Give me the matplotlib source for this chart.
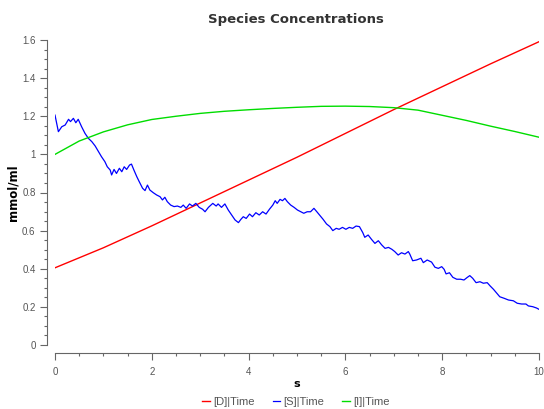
import matplotlib
matplotlib.use("Agg")
import matplotlib.pyplot as plt
from matplotlib.ticker import MultipleLocator, FuncFormatter

# ---- data ----
t_D = [0, 1, 2, 3, 4, 5, 6, 7, 8, 9, 10]
D = [0.405, 0.51, 0.625, 0.745, 0.865, 0.985, 1.11, 1.235, 1.355, 1.475, 1.591]

t_I = [0, 0.5, 1, 1.5, 2, 2.5, 3, 3.5, 4, 4.5, 5, 5.5, 6, 6.5, 7, 7.5, 8, 8.5, 9, 9.5, 10]
I = [1.0, 1.07, 1.118, 1.155, 1.183, 1.20, 1.215, 1.226, 1.234, 1.241, 1.247, 1.252,
     1.253, 1.251, 1.245, 1.232, 1.205, 1.178, 1.148, 1.12, 1.09]

t_S = [0, 0.07, 0.14, 0.21, 0.28, 0.32, 0.38, 0.43, 0.48, 0.55, 0.62, 0.69, 0.76, 0.83,
       0.90, 0.96, 1.03, 1.08, 1.14, 1.17, 1.22, 1.27, 1.33, 1.38, 1.43, 1.48, 1.54, 1.58,
       1.63, 1.69, 1.74, 1.81, 1.86, 1.91, 1.96, 2.03, 2.10, 2.17, 2.22, 2.27, 2.32, 2.39,
       2.46, 2.53, 2.60, 2.65, 2.71, 2.78, 2.84, 2.91, 2.98, 3.05, 3.10, 3.17, 3.26, 3.33,
       3.37, 3.44, 3.51, 3.58, 3.65, 3.72, 3.79, 3.84, 3.89, 3.95, 4.02, 4.08, 4.15, 4.22,
       4.29, 4.36, 4.43, 4.50, 4.55, 4.59, 4.65, 4.70, 4.75, 4.80, 4.87, 4.94, 5.01, 5.08,
       5.14, 5.21, 5.28, 5.35, 5.41, 5.48, 5.54, 5.61, 5.68, 5.74, 5.81, 5.87, 5.94, 6.01,
       6.08, 6.15, 6.22, 6.29, 6.36, 6.40, 6.47, 6.54, 6.61, 6.68, 6.75, 6.82, 6.89, 6.96,
       7.02, 7.09, 7.16, 7.23, 7.30, 7.33, 7.39, 7.47, 7.56, 7.61, 7.69, 7.78, 7.85, 7.92,
       7.99, 8.04, 8.08, 8.15, 8.22, 8.30, 8.38, 8.45, 8.52, 8.57, 8.63, 8.70, 8.78, 8.85,
       8.93, 8.99, 9.06, 9.13, 9.19, 9.28, 9.37, 9.47, 9.55, 9.64, 9.73, 9.78, 9.87, 9.95,
       10.0]
S = [1.206, 1.119, 1.145, 1.154, 1.184, 1.172, 1.189, 1.166, 1.184, 1.145, 1.110, 1.084,
     1.067, 1.044, 1.014, 0.988, 0.962, 0.935, 0.918, 0.892, 0.921, 0.900, 0.927, 0.909,
     0.935, 0.921, 0.944, 0.949, 0.918, 0.883, 0.857, 0.822, 0.810, 0.839, 0.813, 0.799,
     0.787, 0.778, 0.761, 0.775, 0.752, 0.734, 0.726, 0.729, 0.722, 0.734, 0.717, 0.740,
     0.729, 0.743, 0.722, 0.712, 0.699, 0.722, 0.743, 0.729, 0.740, 0.722, 0.740, 0.708,
     0.682, 0.656, 0.642, 0.659, 0.673, 0.664, 0.687, 0.673, 0.694, 0.682, 0.699, 0.687,
     0.712, 0.734, 0.757, 0.743, 0.764, 0.757, 0.769, 0.752, 0.734, 0.722, 0.708, 0.699,
     0.691, 0.699, 0.699, 0.717, 0.699, 0.677, 0.659, 0.635, 0.621, 0.600, 0.612, 0.607,
     0.617, 0.607, 0.617, 0.612, 0.624, 0.621, 0.589, 0.565, 0.577, 0.554, 0.533, 0.547,
     0.525, 0.507, 0.512, 0.502, 0.490, 0.472, 0.484, 0.477, 0.490, 0.477, 0.442, 0.446,
     0.455, 0.432, 0.446, 0.435, 0.408, 0.402, 0.411, 0.397, 0.373, 0.379, 0.355, 0.345,
     0.345, 0.341, 0.355, 0.364, 0.350, 0.327, 0.332, 0.324, 0.327, 0.310, 0.292, 0.271,
     0.253, 0.245, 0.236, 0.232, 0.219, 0.215, 0.215, 0.205, 0.201, 0.194, 0.187]

labels = ["[D]|Time", "[S]|Time", "[I]|Time"]
colors = ["#ff0000", "#0000ff", "#00dd00"]
x_ticks = [0, 2, 4, 6, 8, 10]
y_ticks = [0, 0.2, 0.4, 0.6, 0.8, 1.0, 1.2, 1.4, 1.6]

# ---- figure ----
W, H = 544, 409
fig = plt.figure(figsize=(W / 100, H / 100), dpi=100)
ax = fig.add_axes([55 / W, 64 / H, 484 / W, 305 / H])

ax.plot(t_D, D, color=colors[0], lw=1.0, label=labels[0])
ax.plot(t_S, S, color=colors[1], lw=0.9, label=labels[1])
ax.plot(t_I, I, color=colors[2], lw=1.0, label=labels[2])

ax.set_xlim(0, 10)
ax.set_ylim(0, 1.6)
ax.set_xticks(x_ticks)
ax.set_yticks(y_ticks)
ax.xaxis.set_minor_locator(MultipleLocator(0.5))
ax.yaxis.set_minor_locator(MultipleLocator(0.05))
ax.yaxis.set_major_formatter(FuncFormatter(lambda v, p: f"{v:g}"))

for s in ["top", "right"]:
    ax.spines[s].set_visible(False)
for s in ["left", "bottom"]:
    ax.spines[s].set_position(("outward", 6))
    ax.spines[s].set_color("#666666")
    ax.spines[s].set_linewidth(0.8)

tickfont = "Liberation Sans"
ax.tick_params(axis="both", which="major", length=5, width=0.8, color="#666666",
               labelsize=7, labelcolor="#555555", pad=3)
ax.tick_params(axis="both", which="minor", length=2.5, width=0.8, color="#666666")
ax.tick_params(axis="x", which="major", pad=5)
for lab in ax.get_xticklabels() + ax.get_yticklabels():
    lab.set_family(tickfont)

ax.set_xlabel("s", fontsize=8, fontweight="bold", family="DejaVu Sans", labelpad=1)
ax.set_ylabel("mmol/ml", fontsize=8.5, fontweight="bold", family="DejaVu Sans", labelpad=2)

fig.text(296 / W, 1 - 19 / H, "Species Concentrations", ha="center", va="center",
         fontsize=9.5, fontweight="bold", color="#333333", family="DejaVu Sans")

leg = fig.legend(loc="center", bbox_to_anchor=(296 / W, 7 / H), ncol=3, frameon=False,
                 handlelength=0.7, handletextpad=0.3, columnspacing=1.6,
                 prop={"family": tickfont, "size": 8})
for txt in leg.get_texts():
    txt.set_color("#555555")

fig.savefig("out.png", dpi=100)
